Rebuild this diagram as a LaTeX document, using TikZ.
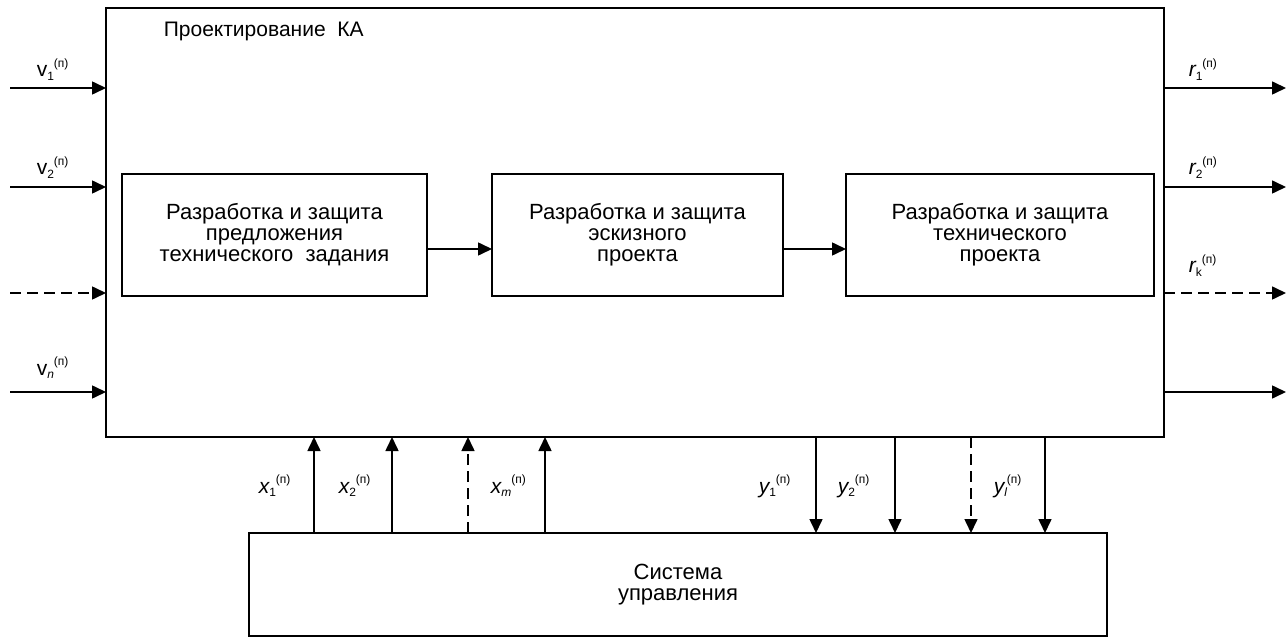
\documentclass[tikz,border=0pt]{standalone}
\usepackage{fontspec}
\setmainfont{Liberation Sans}
\usetikzlibrary{positioning,arrows.meta}

% signal label: letter, subscript, superscript (п)
\newcommand{\sgn}[2]{{#1}\raisebox{-0.3ex}{\fontsize{12}{12}\selectfont #2}\raisebox{0.85ex}{\fontsize{12}{12}\selectfont\upshape (п)}}

\begin{document}
\begin{tikzpicture}[x=1pt,y=-1pt,
    line width=1.6pt,
    >={Triangle[length=14pt,width=13pt]},
    font=\fontsize{21}{21}\selectfont,
    blk/.style={draw, align=center, outer sep=0pt, inner sep=0pt,
        font=\fontsize{22}{21}\selectfont},
    lbl/.style={inner sep=0pt, anchor=base west},
    dsh/.style={dash pattern=on 11pt off 6pt}]
    \useasboundingbox (0,0) rectangle (1286,639);

    % outer block and stages
    \node[blk, minimum width=1058pt, minimum height=429pt] (ka) at (635,222.5) {};
    \node[lbl] (title) at (163,37) {Проектирование\ \ КА};
    \node[blk, minimum width=305pt, minimum height=122pt] (pts) at (274.5,235)
        {Разработка и защита\\предложения\\технического\ \ задания};
    \node[blk, minimum width=291pt, minimum height=122pt] (esk) at (637.5,235)
        {Разработка и защита\\эскизного\\проекта};
    \node[blk, minimum width=308pt, minimum height=122pt] (tech) at (1000,235)
        {Разработка и защита\\технического\\проекта};
    \node[blk, minimum width=858pt, minimum height=103pt] (su) at (678,584.5)
        {Система\\управления};

    \draw[->] (pts.east |- 0,249) -- (esk.west |- 0,249);
    \draw[->] (esk.east |- 0,249) -- (tech.west |- 0,249);

    % inputs
    \coordinate (in1) at (10,88);
    \coordinate (in2) at (10,187);
    \coordinate (in3) at (10,293);
    \coordinate (in4) at (10,392);
    \draw[->] (in1) -- (in1 -| ka.west);
    \draw[->] (in2) -- (in2 -| ka.west);
    \draw[->, dsh] (in3) -- (in3 -| ka.west);
    \draw[->] (in4) -- (in4 -| ka.west);
    \node[lbl] (v1) at (36,77) {\sgn{v}{1}};
    \node[lbl] (v2) at (36,175) {\sgn{v}{2}};
    \node[lbl] (vn) at (36,375) {\sgn{v}{\itshape n}};

    % outputs
    \coordinate (out1) at (1286,88);
    \coordinate (out2) at (1286,187);
    \coordinate (out3) at (1286,293);
    \coordinate (out4) at (1286,392);
    \draw[->] (out1 -| ka.east) -- (out1);
    \draw[->] (out2 -| ka.east) -- (out2);
    \draw[->, dsh] (out3 -| ka.east) -- (out3);
    \draw[->] (out4 -| ka.east) -- (out4);
    \node[lbl] (r1) at (1188,77) {\sgn{\itshape r}{1}};
    \node[lbl] (r2) at (1188,175) {\sgn{\itshape r}{2}};
    \node[lbl] (rk) at (1188,273) {\sgn{\itshape r}{k}};

    % control system links
    \draw[->] (su.north -| 314,0) -- (ka.south -| 314,0);
    \draw[->] (su.north -| 392,0) -- (ka.south -| 392,0);
    \draw[->, dsh] (su.north -| 468,0) -- (ka.south -| 468,0);
    \draw[->] (su.north -| 545,0) -- (ka.south -| 545,0);
    \draw[->] (ka.south -| 816,0) -- (su.north -| 816,0);
    \draw[->] (ka.south -| 895,0) -- (su.north -| 895,0);
    \draw[->, dsh] (ka.south -| 971,0) -- (su.north -| 971,0);
    \draw[->] (ka.south -| 1045,0) -- (su.north -| 1045,0);
    \node[lbl] (x1) at (258,493) {\sgn{\itshape x}{1}};
    \node[lbl] (x2) at (338,493) {\sgn{\itshape x}{2}};
    \node[lbl] (xm) at (490,493) {\sgn{\itshape x}{\itshape m}};
    \node[lbl] (y1) at (758,493) {\sgn{\itshape y}{1}};
    \node[lbl] (y2) at (837,493) {\sgn{\itshape y}{2}};
    \node[lbl] (yl) at (993,493) {\sgn{\itshape y}{\itshape l}};
\end{tikzpicture}
\end{document}
